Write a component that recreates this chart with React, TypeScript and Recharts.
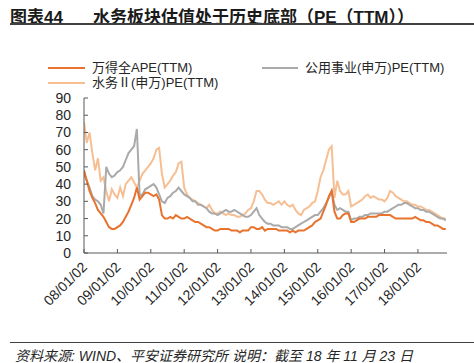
import { LineChart, Line, XAxis, YAxis } from 'recharts';

// monthly samples, Jan 2008 .. Nov 2018
const months = Array.from({ length: 131 }, (_, i) => 2008 + i / 12);

const yearTicks = [2008, 2009, 2010, 2011, 2012, 2013, 2014, 2015, 2016, 2017, 2018];
const yTicks = [0, 10, 20, 30, 40, 50, 60, 70, 80, 90];

const windA = [
  48, 42, 36, 32, 29, 25, 23, 21, 18, 15, 14, 14,
  15, 16, 18, 21, 24, 28, 32, 38, 31, 33, 35, 35,
  34, 33, 34, 31, 22, 20, 20, 21, 20, 22, 21, 20,
  20, 21, 20, 19, 18, 18, 17, 16, 15, 15, 14, 13,
  13, 14, 14, 14, 14, 13, 13, 13, 12, 13, 13, 13,
  15, 15, 14, 14, 15, 13, 14, 14, 14, 14, 13, 13,
  13, 13, 12, 13, 12, 13, 13, 13, 14, 15, 16, 18,
  19, 20, 24, 28, 33, 36, 24, 20, 20, 22, 23, 23,
  18, 18, 19, 20, 20, 20, 21, 21, 21, 21, 22, 22,
  22, 22, 22, 21, 20, 20, 20, 20, 20, 20, 20, 21,
  20, 19, 19, 18, 18, 17, 16, 16, 15, 14, 14,
];

const utilities = [
  46, 42, 38, 33, 31, 30, 28, 23, 50, 46, 44, 45,
  47, 48, 50, 54, 58, 60, 62, 72, 33, 34, 37, 38,
  39, 40, 38, 34, 30, 29, 32, 33, 35, 36, 38, 36,
  34, 33, 32, 30, 30, 28, 28, 27, 26, 24, 23, 23,
  22, 23, 24, 25, 24, 24, 25, 24, 23, 22, 21, 21,
  22, 24, 26, 22, 20, 18, 17, 17, 16, 16, 16, 15,
  15, 15, 14, 14, 15, 16, 17, 18, 19, 20, 21, 22,
  22, 24, 26, 29, 32, 36, 28, 25, 26, 25, 24, 24,
  19, 20, 20, 21, 21, 22, 22, 23, 23, 23, 23, 23,
  24, 24, 25, 26, 27, 28, 28, 29, 29, 28, 27, 26,
  26, 25, 25, 24, 24, 23, 22, 21, 20, 20, 19,
];

const water = [
  76, 64, 70, 58, 48, 55, 42, 44, 36, 30, 37, 34,
  32, 38, 33, 40, 42, 44, 41, 38, 42, 46, 48, 50,
  52, 55, 60, 61, 46, 38, 40, 42, 45, 47, 52, 53,
  38, 34, 32, 31, 30, 29, 28, 27, 26, 28, 25, 23,
  23, 24, 23, 22, 23, 22, 22, 21, 21, 22, 23, 25,
  26, 30, 36, 36, 34, 31, 29, 29, 28, 29, 30, 28,
  30, 28, 27, 28, 25, 23, 22, 25, 26, 27, 29, 30,
  36, 44, 48, 54, 60, 62, 32, 42, 36, 34, 34, 36,
  27, 28, 29, 30, 31, 33, 34, 32, 33, 32, 31, 31,
  30, 32, 36, 35, 33, 32, 31, 30, 30, 29, 28, 28,
  27, 27, 26, 25, 25, 24, 23, 22, 21, 20, 20,
];

const data = months.map((t, i) => ({ t, windA: windA[i], utilities: utilities[i], water: water[i] }));

const FONT = '"Liberation Sans", Arial, "Noto Sans CJK SC", sans-serif';
const AXIS = '#595959';
const TEXT = '#262626';

const legendItems = [
  { label: '万得全APE(TTM)', color: '#E8732E', left: 48, top: 60, w: 37 },
  { label: '公用事业(申万)PE(TTM)', color: '#AAAAAA', left: 262, top: 60, w: 36 },
  { label: '水务Ⅱ(申万)PE(TTM)', color: '#F6BF93', left: 48, top: 75, w: 37 },
];

const fmtDate = (v: number) => `${String(v - 2000).padStart(2, '0')}/01/02`;

const XTick = (props: any) => {
  const { x, y, payload } = props;
  return (
    <g>
      <line x1={x} x2={x} y1={y} y2={y - 4} stroke={AXIS} />
      <text
        x={x + 4}
        y={y + 15}
        transform={`rotate(-45, ${x + 4}, ${y + 15})`}
        textAnchor="end"
        fontSize={14}
        fill={TEXT}
        fontFamily={FONT}
      >
        {fmtDate(payload.value)}
      </text>
    </g>
  );
};

const YTick = (props: any) => {
  const { x, y, payload } = props;
  return (
    <g>
      <line x1={x} x2={x + 4} y1={y} y2={y} stroke={AXIS} />
      <text x={x - 13} y={y + 5} textAnchor="end" fontSize={14} fill={TEXT} fontFamily={FONT}>
        {payload.value}
      </text>
    </g>
  );
};

export default function App() {
  return (
    <div style={{ position: 'absolute', left: 0, top: 0, width: 474, height: 363, background: '#fff', overflow: 'hidden' }}>
      <div
        style={{
          position: 'absolute',
          left: 10,
          top: 3,
          fontSize: 17,
          fontWeight: 'bold',
          color: '#1a1a1a',
          fontFamily: FONT,
          whiteSpace: 'nowrap',
        }}
      >
        图表44<span style={{ marginLeft: 30 }}>水务板块估值处于历史底部（PE（TTM））</span>
      </div>
      <div style={{ position: 'absolute', left: 10, top: 23, width: 464, height: 2, background: '#404040' }} />

      {legendItems.map((it) => (
        <div
          key={it.label}
          style={{ position: 'absolute', left: it.left, top: it.top, display: 'flex', alignItems: 'center', height: 15, lineHeight: '15px' }}
        >
          <div style={{ width: it.w, height: 2, background: it.color, marginRight: 7 }} />
          <span style={{ fontSize: 13, color: TEXT, fontFamily: FONT, whiteSpace: 'nowrap' }}>{it.label}</span>
        </div>
      ))}

      <div style={{ position: 'absolute', left: 0, top: 0 }}>
        <LineChart width={474} height={363} data={data} margin={{ top: 98, right: 27, bottom: 50, left: 44 }}>
          <XAxis
            dataKey="t"
            type="number"
            domain={[2008, 2018.87]}
            ticks={yearTicks}
            tick={<XTick />}
            tickLine={false}
            tickSize={0}
            tickMargin={0}
            interval={0}
            height={60}
            stroke={AXIS}
            allowDataOverflow
          />
          <YAxis
            domain={[0, 90]}
            ticks={yTicks}
            tick={<YTick />}
            tickLine={false}
            tickSize={0}
            tickMargin={0}
            width={40}
            stroke={AXIS}
            interval={0}
          />
          <Line type="linear" dataKey="water" stroke="#F6BF93" strokeWidth={2} dot={false} isAnimationActive={false} />
          <Line type="linear" dataKey="utilities" stroke="#AAAAAA" strokeWidth={2} dot={false} isAnimationActive={false} />
          <Line type="linear" dataKey="windA" stroke="#E8732E" strokeWidth={2} dot={false} isAnimationActive={false} />
        </LineChart>
      </div>

      <div style={{ position: 'absolute', left: 10, top: 342, width: 464, height: 1, background: '#404040' }} />
      <div
        style={{
          position: 'absolute',
          left: 15,
          top: 345,
          fontSize: 14,
          fontStyle: 'italic',
          color: TEXT,
          fontFamily: FONT,
          whiteSpace: 'nowrap',
        }}
      >
        资料来源: WIND、平安证券研究所 说明：截至 18 年 11 月 23 日
      </div>
    </div>
  );
}
